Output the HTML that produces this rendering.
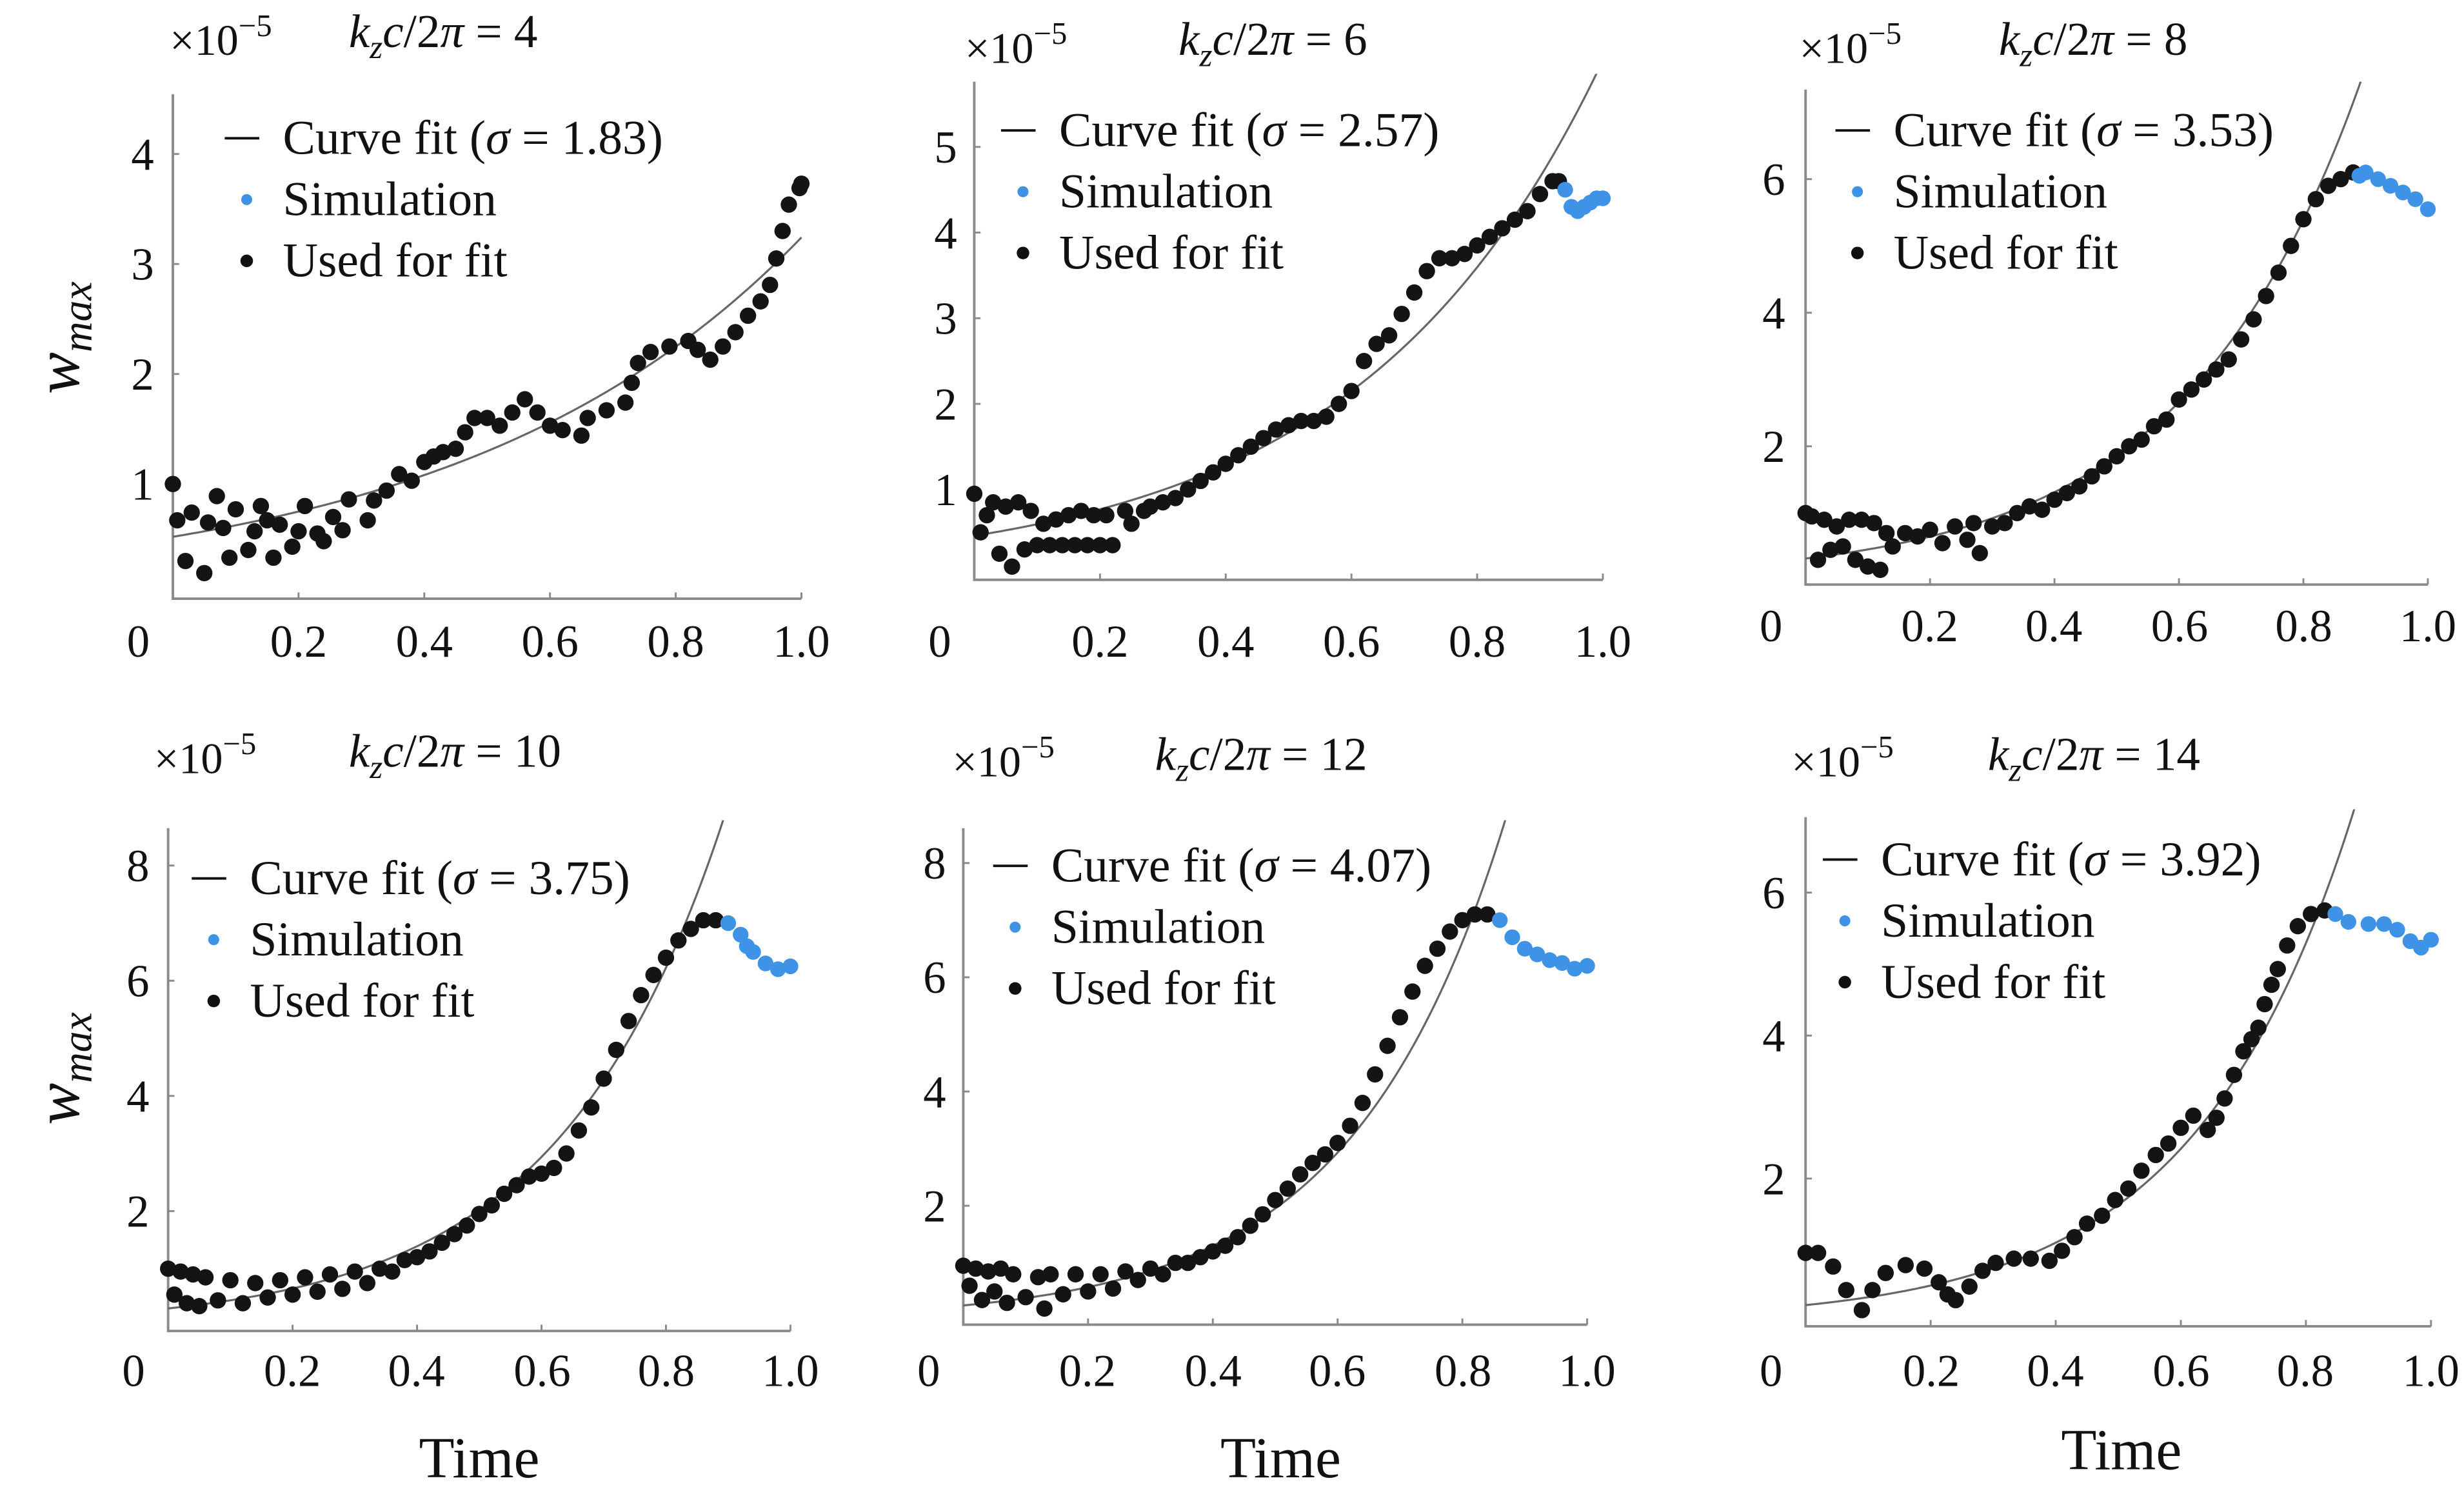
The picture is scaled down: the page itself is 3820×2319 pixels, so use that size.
<!DOCTYPE html>
<html><head><meta charset="utf-8"><style>
html,body{margin:0;padding:0;background:#fff}
svg{display:block}
svg text{font-family:"Liberation Serif","Times New Roman",serif;fill:#111}
.xt{font-size:29px;text-anchor:middle}
.yt{font-size:29px;text-anchor:end}
.lg{font-size:31px}
.mu{font-size:28px}
.ti{font-size:30px}
</style></head><body>
<svg id="chart" width="3820" height="2319" viewBox="0 0 1568 952" preserveAspectRatio="none" xmlns="http://www.w3.org/2000/svg">
<text transform="translate(50,215) rotate(-90)" text-anchor="middle" font-size="40" font-style="italic">w<tspan font-size="27" dy="8">max</tspan></text>
<text transform="translate(50,680) rotate(-90)" text-anchor="middle" font-size="40" font-style="italic">w<tspan font-size="27" dy="8">max</tspan></text>
<text x="305" y="940" text-anchor="middle" font-size="37">Time</text>
<text x="815" y="940" text-anchor="middle" font-size="37">Time</text>
<text x="1350" y="935" text-anchor="middle" font-size="37">Time</text>

<!-- panel 1 text -->
<g>
<text class="mu" x="108" y="35">×10<tspan dy="-12" font-size="20">−5</tspan></text>
<text class="ti" x="222" y="30"><tspan font-style="italic">k</tspan><tspan font-style="italic" font-size="21" dy="7">z</tspan><tspan font-style="italic" dy="-7">c</tspan>/2<tspan font-style="italic">π</tspan> = 4</text>
<text class="lg" x="180" y="98">Curve fit (<tspan font-style="italic">σ</tspan> = 1.83)</text>
<text class="lg" x="180" y="137">Simulation</text>
<text class="lg" x="180" y="176">Used for fit</text>
<text class="xt" x="88" y="418">0</text>
<text class="xt" x="190" y="418">0.2</text>
<text class="xt" x="270" y="418">0.4</text>
<text class="xt" x="350" y="418">0.6</text>
<text class="xt" x="430" y="418">0.8</text>
<text class="xt" x="510" y="418">1.0</text>
<text class="yt" x="98" y="318">1</text>
<text class="yt" x="98" y="248">2</text>
<text class="yt" x="98" y="178">3</text>
<text class="yt" x="98" y="108">4</text>
</g>
<!-- panel 2 text -->
<g>
<text class="mu" x="614" y="40">×10<tspan dy="-12" font-size="20">−5</tspan></text>
<text class="ti" x="750" y="35"><tspan font-style="italic">k</tspan><tspan font-style="italic" font-size="21" dy="7">z</tspan><tspan font-style="italic" dy="-7">c</tspan>/2<tspan font-style="italic">π</tspan> = 6</text>
<text class="lg" x="674" y="93">Curve fit (<tspan font-style="italic">σ</tspan> = 2.57)</text>
<text class="lg" x="674" y="132">Simulation</text>
<text class="lg" x="674" y="171">Used for fit</text>
<text class="xt" x="598" y="418">0</text>
<text class="xt" x="700" y="418">0.2</text>
<text class="xt" x="780" y="418">0.4</text>
<text class="xt" x="860" y="418">0.6</text>
<text class="xt" x="940" y="418">0.8</text>
<text class="xt" x="1020" y="418">1.0</text>
<text class="yt" x="609" y="321.5">1</text>
<text class="yt" x="609" y="267">2</text>
<text class="yt" x="609" y="212.5">3</text>
<text class="yt" x="609" y="158">4</text>
<text class="yt" x="609" y="103.5">5</text>
</g>
<!-- panel 3 text -->
<g>
<text class="mu" x="1145" y="40">×10<tspan dy="-12" font-size="20">−5</tspan></text>
<text class="ti" x="1272" y="35"><tspan font-style="italic">k</tspan><tspan font-style="italic" font-size="21" dy="7">z</tspan><tspan font-style="italic" dy="-7">c</tspan>/2<tspan font-style="italic">π</tspan> = 8</text>
<text class="lg" x="1205" y="93">Curve fit (<tspan font-style="italic">σ</tspan> = 3.53)</text>
<text class="lg" x="1205" y="132">Simulation</text>
<text class="lg" x="1205" y="171">Used for fit</text>
<text class="xt" x="1127" y="408">0</text>
<text class="xt" x="1228" y="408">0.2</text>
<text class="xt" x="1307" y="408">0.4</text>
<text class="xt" x="1387" y="408">0.6</text>
<text class="xt" x="1466" y="408">0.8</text>
<text class="xt" x="1545" y="408">1.0</text>
<text class="yt" x="1136" y="294">2</text>
<text class="yt" x="1136" y="209">4</text>
<text class="yt" x="1136" y="124">6</text>
</g>
<!-- panel 4 text -->
<g>
<text class="mu" x="98" y="492">×10<tspan dy="-12" font-size="20">−5</tspan></text>
<text class="ti" x="222" y="488"><tspan font-style="italic">k</tspan><tspan font-style="italic" font-size="21" dy="7">z</tspan><tspan font-style="italic" dy="-7">c</tspan>/2<tspan font-style="italic">π</tspan> = 10</text>
<text class="lg" x="159" y="569">Curve fit (<tspan font-style="italic">σ</tspan> = 3.75)</text>
<text class="lg" x="159" y="608">Simulation</text>
<text class="lg" x="159" y="647">Used for fit</text>
<text class="xt" x="85" y="882">0</text>
<text class="xt" x="186" y="882">0.2</text>
<text class="xt" x="265" y="882">0.4</text>
<text class="xt" x="345" y="882">0.6</text>
<text class="xt" x="424" y="882">0.8</text>
<text class="xt" x="503" y="882">1.0</text>
<text class="yt" x="95" y="780.7">2</text>
<text class="yt" x="95" y="707.4">4</text>
<text class="yt" x="95" y="634.1">6</text>
<text class="yt" x="95" y="560.8">8</text>
</g>
<!-- panel 5 text -->
<g>
<text class="mu" x="606" y="494">×10<tspan dy="-12" font-size="20">−5</tspan></text>
<text class="ti" x="735" y="490"><tspan font-style="italic">k</tspan><tspan font-style="italic" font-size="21" dy="7">z</tspan><tspan font-style="italic" dy="-7">c</tspan>/2<tspan font-style="italic">π</tspan> = 12</text>
<text class="lg" x="669" y="561">Curve fit (<tspan font-style="italic">σ</tspan> = 4.07)</text>
<text class="lg" x="669" y="600">Simulation</text>
<text class="lg" x="669" y="639">Used for fit</text>
<text class="xt" x="591" y="882">0</text>
<text class="xt" x="692" y="882">0.2</text>
<text class="xt" x="772" y="882">0.4</text>
<text class="xt" x="851" y="882">0.6</text>
<text class="xt" x="931" y="882">0.8</text>
<text class="xt" x="1010" y="882">1.0</text>
<text class="yt" x="602" y="777.3">2</text>
<text class="yt" x="602" y="704.6">4</text>
<text class="yt" x="602" y="631.9">6</text>
<text class="yt" x="602" y="559.2">8</text>
</g>
<!-- panel 6 text -->
<g>
<text class="mu" x="1140" y="494">×10<tspan dy="-12" font-size="20">−5</tspan></text>
<text class="ti" x="1265" y="490"><tspan font-style="italic">k</tspan><tspan font-style="italic" font-size="21" dy="7">z</tspan><tspan font-style="italic" dy="-7">c</tspan>/2<tspan font-style="italic">π</tspan> = 14</text>
<text class="lg" x="1197" y="557">Curve fit (<tspan font-style="italic">σ</tspan> = 3.92)</text>
<text class="lg" x="1197" y="596">Simulation</text>
<text class="lg" x="1197" y="635">Used for fit</text>
<text class="xt" x="1127" y="882">0</text>
<text class="xt" x="1229" y="882">0.2</text>
<text class="xt" x="1308" y="882">0.4</text>
<text class="xt" x="1388" y="882">0.6</text>
<text class="xt" x="1467" y="882">0.8</text>
<text class="xt" x="1547" y="882">1.0</text>
<text class="yt" x="1136" y="760">2</text>
<text class="yt" x="1136" y="669">4</text>
<text class="yt" x="1136" y="578">6</text>
</g>
</svg>
<script>
// ---- data ----
const kValues = [4, 6, 8, 10, 12, 14];
const sigmas = [1.83, 2.57, 3.53, 3.75, 4.07, 3.92];
const fitAmps = [0.52, 0.46, 0.32, 0.31, 0.255, 0.23];
const yTicks1 = [1,2,3,4];
const yTicks2 = [1,2,3,4,5];
const yTicks3 = [2,4,6];
const yTicks4 = [2,4,6,8];
const yTicks5 = [2,4,6,8];
const yTicks6 = [2,4,6];
const xTickValues = [0,0.2,0.4,0.6,0.8,1.0];

const fit1 = [[0,1.0],[0.007,0.67],[0.03,0.74],[0.02,0.3],[0.05,0.19],[0.056,0.65],[0.07,0.89],[0.08,0.6],[0.09,0.33],[0.10,0.77],[0.12,0.4],[0.13,0.57],[0.14,0.8],[0.15,0.67],[0.16,0.33],[0.17,0.63],[0.19,0.43],[0.2,0.57],[0.21,0.8],[0.23,0.55],[0.24,0.48],[0.255,0.7],[0.27,0.58],[0.28,0.86],[0.31,0.67],[0.32,0.85],[0.34,0.94],[0.36,1.09],[0.38,1.03],[0.40,1.2],[0.415,1.25],[0.43,1.29],[0.45,1.32],[0.465,1.47],[0.48,1.6],[0.50,1.6],[0.52,1.53],[0.54,1.65],[0.56,1.77],[0.58,1.65],[0.60,1.53],[0.62,1.49],[0.65,1.44],[0.66,1.6],[0.69,1.67],[0.72,1.74],[0.73,1.92],[0.74,2.1],[0.76,2.2],[0.79,2.25],[0.82,2.3],[0.835,2.22],[0.855,2.13],[0.875,2.25],[0.895,2.38],[0.915,2.53],[0.935,2.66],[0.95,2.81],[0.96,3.05],[0.97,3.3],[0.98,3.54],[0.997,3.69],[1.0,3.73]];
const sim1 = [];
const fit2 = [[0,0.95],[0.01,0.5],[0.02,0.7],[0.03,0.85],[0.04,0.25],[0.05,0.8],[0.06,0.1],[0.07,0.85],[0.08,0.3],[0.09,0.75],[0.1,0.35],[0.11,0.6],[0.12,0.35],[0.13,0.65],[0.14,0.35],[0.15,0.7],[0.16,0.35],[0.17,0.75],[0.18,0.35],[0.19,0.7],[0.2,0.35],[0.21,0.7],[0.22,0.35],[0.24,0.75],[0.25,0.6],[0.27,0.75],[0.28,0.8],[0.3,0.85],[0.32,0.9],[0.34,1.0],[0.36,1.1],[0.38,1.2],[0.40,1.3],[0.42,1.4],[0.44,1.5],[0.46,1.6],[0.48,1.7],[0.5,1.75],[0.52,1.8],[0.54,1.8],[0.56,1.85],[0.58,2.0],[0.6,2.15],[0.62,2.5],[0.64,2.7],[0.66,2.8],[0.68,3.05],[0.7,3.3],[0.72,3.55],[0.74,3.7],[0.76,3.7],[0.78,3.75],[0.8,3.85],[0.82,3.95],[0.84,4.05],[0.86,4.15],[0.88,4.25],[0.9,4.45],[0.92,4.6],[0.93,4.6]];
const sim2 = [[0.94,4.5],[0.95,4.3],[0.96,4.25],[0.97,4.3],[0.98,4.35],[0.99,4.4],[1.0,4.4]];
const fit3 = [[0,1.0],[0.01,0.95],[0.02,0.3],[0.03,0.9],[0.04,0.45],[0.05,0.8],[0.06,0.5],[0.07,0.9],[0.08,0.3],[0.09,0.9],[0.1,0.2],[0.11,0.85],[0.12,0.15],[0.13,0.7],[0.14,0.5],[0.16,0.7],[0.18,0.65],[0.2,0.75],[0.22,0.55],[0.24,0.8],[0.26,0.6],[0.27,0.85],[0.28,0.4],[0.3,0.8],[0.32,0.85],[0.34,1.0],[0.36,1.1],[0.38,1.05],[0.4,1.2],[0.42,1.3],[0.44,1.4],[0.46,1.55],[0.48,1.7],[0.5,1.85],[0.52,2.0],[0.54,2.1],[0.56,2.3],[0.58,2.4],[0.6,2.7],[0.62,2.85],[0.64,3.0],[0.66,3.15],[0.68,3.3],[0.7,3.6],[0.72,3.9],[0.74,4.25],[0.76,4.6],[0.78,5.0],[0.8,5.4],[0.82,5.7],[0.84,5.9],[0.86,6.0],[0.88,6.1]];
const sim3 = [[0.89,6.05],[0.9,6.1],[0.92,6.0],[0.94,5.9],[0.96,5.8],[0.98,5.7],[1.0,5.55]];
const fit4 = [[0,1.0],[0.01,0.55],[0.02,0.95],[0.03,0.4],[0.04,0.9],[0.05,0.35],[0.06,0.85],[0.08,0.45],[0.1,0.8],[0.12,0.4],[0.14,0.75],[0.16,0.5],[0.18,0.8],[0.2,0.55],[0.22,0.85],[0.24,0.6],[0.26,0.9],[0.28,0.65],[0.3,0.95],[0.32,0.75],[0.34,1.0],[0.36,0.95],[0.38,1.15],[0.40,1.2],[0.42,1.3],[0.44,1.45],[0.46,1.6],[0.48,1.75],[0.5,1.95],[0.52,2.1],[0.54,2.3],[0.56,2.45],[0.58,2.6],[0.6,2.65],[0.62,2.75],[0.64,3.0],[0.66,3.4],[0.68,3.8],[0.70,4.3],[0.72,4.8],[0.74,5.3],[0.76,5.75],[0.78,6.1],[0.8,6.4],[0.82,6.7],[0.84,6.9],[0.86,7.05],[0.88,7.05]];
const sim4 = [[0.9,7.0],[0.92,6.8],[0.93,6.6],[0.94,6.5],[0.96,6.3],[0.98,6.2],[1.0,6.25]];
const fit5 = [[0,0.95],[0.01,0.6],[0.02,0.9],[0.03,0.35],[0.04,0.85],[0.05,0.5],[0.06,0.9],[0.07,0.3],[0.08,0.8],[0.1,0.4],[0.12,0.75],[0.13,0.2],[0.14,0.8],[0.16,0.45],[0.18,0.8],[0.2,0.5],[0.22,0.8],[0.24,0.55],[0.26,0.85],[0.28,0.7],[0.3,0.9],[0.32,0.8],[0.34,1.0],[0.36,1.0],[0.38,1.1],[0.4,1.2],[0.42,1.3],[0.44,1.45],[0.46,1.65],[0.48,1.85],[0.5,2.1],[0.52,2.3],[0.54,2.55],[0.56,2.75],[0.58,2.9],[0.6,3.1],[0.62,3.4],[0.64,3.8],[0.66,4.3],[0.68,4.8],[0.7,5.3],[0.72,5.75],[0.74,6.2],[0.76,6.5],[0.78,6.8],[0.8,7.0],[0.82,7.1],[0.84,7.1]];
const sim5 = [[0.86,7.0],[0.88,6.7],[0.9,6.5],[0.92,6.4],[0.94,6.3],[0.96,6.25],[0.98,6.15],[1.0,6.2]];
const fit6 = [[0,0.96],[0.02,0.96],[0.044,0.77],[0.065,0.44],[0.09,0.16],[0.107,0.44],[0.128,0.68],[0.16,0.79],[0.19,0.74],[0.213,0.55],[0.227,0.38],[0.24,0.3],[0.262,0.49],[0.283,0.71],[0.304,0.82],[0.333,0.88],[0.36,0.88],[0.39,0.85],[0.41,0.99],[0.43,1.18],[0.45,1.37],[0.474,1.48],[0.495,1.7],[0.516,1.86],[0.537,2.11],[0.56,2.33],[0.58,2.49],[0.60,2.71],[0.62,2.88],[0.643,2.68],[0.657,2.85],[0.67,3.12],[0.685,3.45],[0.70,3.78],[0.713,3.95],[0.724,4.11],[0.734,4.44],[0.745,4.71],[0.755,4.93],[0.77,5.26],[0.787,5.53],[0.808,5.7],[0.83,5.75]];
const sim6 = [[0.847,5.7],[0.868,5.59],[0.9,5.56],[0.925,5.56],[0.946,5.48],[0.967,5.32],[0.984,5.23],[1.0,5.34]];

// ---- layout (pixels) ----
const panels = [
 {x0:110,w:400,y0:378,top:60,ppu:70,ticks:yTicks1,fit:fit1,sim:sim1,lx:143,ly:88},
 {x0:620,w:400,y0:366,top:52,ppu:54.5,ticks:yTicks2,fit:fit2,sim:sim2,lx:637,ly:83},
 {x0:1149,w:396,y0:369,top:57,ppu:42.5,ticks:yTicks3,fit:fit3,sim:sim3,lx:1168,ly:83},
 {x0:107,w:396,y0:844,top:527,ppu:36.65,ticks:yTicks4,fit:fit4,sim:sim4,lx:122,ly:559},
 {x0:613,w:397,y0:840,top:527,ppu:36.35,ticks:yTicks5,fit:fit5,sim:sim5,lx:632,ly:551},
 {x0:1149,w:398,y0:841,top:520,ppu:45.5,ticks:yTicks6,fit:fit6,sim:sim6,lx:1160,ly:547}
];
const NS="http://www.w3.org/2000/svg";
const svg=document.getElementById('chart');
function mk(tag,attrs,parent){const e=document.createElementNS(NS,tag);for(const k in attrs)e.setAttribute(k,attrs[k]);(parent||svg).appendChild(e);return e;}

panels.forEach((p,i)=>{
  const g=mk('g',{});
  
  
  const X=t=>p.x0+t*p.w, Y=v=>p.y0-v*p.ppu;
  const ax=mk('path',{d:`M${p.x0},${p.top}V${p.y0+3}H${X(1)}`,fill:'none',stroke:'#8a8a8a','stroke-width':1.6},g);
  
  
  xTickValues.forEach((tv,j)=>{
    if(j>0){const tk=mk('line',{x1:X(tv),x2:X(tv),y1:p.y0+3,y2:p.y0-1,stroke:'#8a8a8a','stroke-width':1.2},g);
      
      }
  });
  p.ticks.forEach(v=>{
    const tk=mk('line',{x1:p.x0,x2:p.x0+4,y1:Y(v),y2:Y(v),stroke:'#8a8a8a','stroke-width':1.2},g);
    
    
  });
  const cid='clip'+i;
  const cp=mk('clipPath',{id:cid},g);
  mk('rect',{x:p.x0,y:p.top-5,width:p.w+5,height:p.y0-p.top+5},cp);
  let d='';
  for(let k=0;k<=200;k++){const t=k/200;const v=fitAmps[i]*Math.exp(sigmas[i]*t);d+=(k?'L':'M')+X(t).toFixed(2)+','+Y(v).toFixed(2);}
  const c=mk('path',{d:d,fill:'none',stroke:'#666','stroke-width':1.3,'clip-path':`url(#${cid})`},g);
  
  
  p.fit.forEach(pt=>{const e=mk('circle',{cx:X(pt[0]),cy:Y(pt[1]),r:5.2,fill:'#141414'},g);
    
    });
  p.sim.forEach(pt=>{const e=mk('circle',{cx:X(pt[0]),cy:Y(pt[1]),r:5.0,fill:'#3f93e6'},g);
    
    });
  const lg=mk('g',{},g);
  
  
  mk('line',{x1:p.lx,x2:p.lx+22,y1:p.ly,y2:p.ly,stroke:'#111','stroke-width':1.6},lg);
  mk('circle',{cx:p.lx+14,cy:p.ly+39,r:3.5,fill:'#3f93e6'},lg);
  mk('circle',{cx:p.lx+14,cy:p.ly+78,r:4,fill:'#111'},lg);
});
</script>
</body></html>
